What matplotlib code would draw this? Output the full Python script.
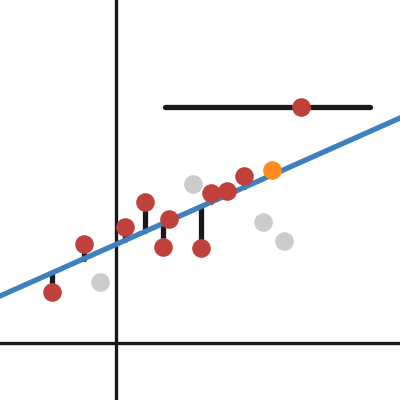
import matplotlib
matplotlib.use("Agg")
import matplotlib.pyplot as plt
import numpy as np

# data
red_x = [-1.59, -0.80, 0.22, 0.73, 1.18, 1.32, 2.12, 2.37, 2.78, 3.20]
red_y = [1.28, 2.47, 2.91, 3.53, 2.39, 3.09, 2.37, 3.74, 3.81, 4.18]
gray_x = [-0.40, 1.93, 3.67, 4.21]
gray_y = [1.53, 3.97, 3.03, 2.56]
orange_x = [3.90]
orange_y = [4.32]
outlier_x = [4.62]
outlier_y = [5.91]
slider_x = [1.22, 6.34]
fit_slope = 0.445
fit_intercept = 2.465

RED = "#c0413b"
GRAY = "#cccccc"
ORANGE = "#ff8c1f"
BLUE = "#3f80bf"
BLACK = "#1a1a1a"

fig = plt.figure(figsize=(4, 4), dpi=100)
ax = fig.add_axes([0, 0, 1, 1])
ax.set_xlim(-2.9, 7.1)
ax.set_ylim(-1.425, 8.575)
ax.axis("off")

ax.axhline(0, color=BLACK, lw=2.4, zorder=1)
ax.axvline(0, color=BLACK, lw=2.4, zorder=1)

# residuals
for x, y in zip(red_x, red_y):
    yf = fit_intercept + fit_slope * x
    ax.plot([x, x], [y, yf], color=BLACK, lw=3.8, solid_capstyle="round", zorder=2)

xs = np.array(ax.get_xlim())
ax.plot(xs, fit_intercept + fit_slope * xs, color=BLUE, lw=3.8, zorder=3)

# slider
ax.plot(slider_x, [outlier_y[0]] * 2, color=BLACK, lw=3.8, solid_capstyle="round", zorder=3)

ms = 180
ax.scatter(gray_x, gray_y, s=ms, color=GRAY, zorder=4, linewidths=0)
ax.scatter(red_x, red_y, s=ms, color=RED, zorder=5, linewidths=0)
ax.scatter(orange_x, orange_y, s=ms, color=ORANGE, zorder=5, linewidths=0)
ax.scatter(outlier_x, outlier_y, s=ms, color=RED, zorder=5, linewidths=0)

fig.savefig("out.png", dpi=100)
